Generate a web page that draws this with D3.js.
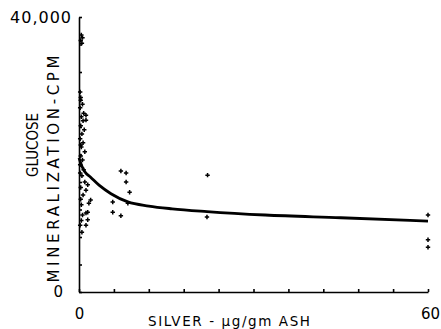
<!DOCTYPE html>
<html>
<head>
<meta charset="utf-8">
<script src="https://cdn.jsdelivr.net/npm/d3@7"></script>
<style>
  body { margin: 0; background: #fff; }
  svg { display: block; }
  text { font-family: "DejaVu Sans", sans-serif; fill: #000; }
  .axis path, .axis line { stroke: #000; stroke-width: 1.6; }
</style>
</head>
<body>
<script>
// silver (ug/gm ash) and glucose mineralization (cpm) for each sample
const silverX = [
  0.4, 0.6, 0.3, 0.5, 0.2, 0.3,
  0.3, 0.6, 0.2, 0.8, 0.4, 0.7, 0.3, 0.9, 0.5, 0.2, 0.7, 0.4, 1.0, 0.3, 0.6,
  0.2, 0.8, 0.5, 1.0, 0.3, 0.7, 0.4, 0.6, 0.2, 0.5, 0.3, 0.4, 0.2, 0.3,
  1.2, 1.2, 1.5, 1.2, 2.0, 1.7, 1.2, 1.5, 1.5, 1.2,
  7.2, 8.1, 8.1, 8.7, 5.8, 8.4, 5.8, 7.2,
  22.1, 22.0,
  60, 60, 60
];
const glucoseY = [
  37400, 37000, 36600, 36200, 29100, 28300,
  27900, 27300, 26800, 26000, 25500, 24900, 24200, 23600, 23000, 22300, 21700, 21100, 20400, 19800, 19200,
  18500, 17800, 16900, 16000, 15200, 14100, 12700, 11200, 9700, 8700, 13500, 10400, 17300, 21400,
  25700, 25000, 15600, 14800, 13400, 12900, 11500, 11600, 10500, 9700,
  17600, 17300, 16000, 14500, 13100, 12900, 11600, 11100,
  17000, 10900,
  11200, 7600, 6500
];

// fitted curve
const fitX = [0, 0.5, 1, 2, 3.5, 5.5, 8.4, 12, 16, 22, 32, 45, 60];
const fitY = [19500, 18300, 17500, 16700, 15500, 14300, 13100, 12500, 12100, 11700, 11200, 10800, 10300];

const yTickValues = d3.range(0, 40001, 4000);
const xTickValues = d3.range(0, 61, 6);
const xTickLabels = {0: "0", 60: "60"};
const yTickLabels = {0: "0", 40000: "40,000"};

const width = 441, height = 329;
const svg = d3.select("body").append("svg")
  .attr("width", width)
  .attr("height", height);

const x = d3.scaleLinear().domain([0, 60]).range([79, 428]);
const y = d3.scaleLinear().domain([0, 40000]).range([292, 17]);

// x axis, ticks pointing up into the plot
svg.append("g")
  .attr("class", "axis")
  .attr("transform", "translate(0," + y(0) + ")")
  .call(d3.axisBottom(x)
    .tickValues(xTickValues)
    .tickSizeInner(-3)
    .tickSizeOuter(0)
    .tickPadding(16)
    .tickFormat(d => xTickLabels[d] || ""))
  .call(g => g.selectAll("text").attr("font-size", 15).attr("font-family", "DejaVu Sans"))
  .call(g => g.selectAll(".tick").filter(d => d === 60).select("text").attr("x", 2));

// y axis
svg.append("g")
  .attr("class", "axis")
  .attr("transform", "translate(" + x(0) + ",0)")
  .call(d3.axisLeft(y)
    .tickValues(yTickValues)
    .tickSizeInner(-3)
    .tickSizeOuter(0)
    .tickPadding(16)
    .tickFormat(d => yTickLabels[d] || ""))
  .call(g => g.selectAll("text").attr("font-size", 15).attr("font-family", "DejaVu Sans"))
  .call(g => g.selectAll(".tick").filter(d => d === 40000).select("text")
    .attr("x", -7).attr("font-size", 16).attr("letter-spacing", 1));

// fitted curve
const line = d3.line()
  .x((d, i) => x(fitX[i]))
  .y(d => y(d))
  .curve(d3.curveMonotoneX);

svg.append("path")
  .datum(fitY)
  .attr("d", line)
  .attr("fill", "none")
  .attr("stroke", "#000")
  .attr("stroke-width", 2.8);

// data points as small plus marks
svg.selectAll(".pt")
  .data(glucoseY)
  .enter().append("path")
    .attr("class", "pt")
    .attr("transform", (d, i) => "translate(" + x(silverX[i]) + "," + y(d) + ")")
    .attr("d", "M-2.2,0H2.2M0,-2.2V2.2")
    .attr("stroke", "#000")
    .attr("stroke-width", 1.5);

// axis titles
svg.append("text")
  .attr("x", 229)
  .attr("y", 326)
  .attr("text-anchor", "middle")
  .attr("font-size", 13.5)
  .attr("textLength", 162)
  .attr("lengthAdjust", "spacing")
  .text("SILVER - \u00b5g/gm ASH");

svg.append("text")
  .attr("transform", "translate(38,145) rotate(-90)")
  .attr("text-anchor", "middle")
  .attr("font-size", 15)
  .attr("textLength", 64)
  .attr("lengthAdjust", "spacingAndGlyphs")
  .text("GLUCOSE");

svg.append("text")
  .attr("transform", "translate(59,169) rotate(-90)")
  .attr("text-anchor", "middle")
  .attr("font-size", 15)
  .attr("textLength", 227)
  .attr("lengthAdjust", "spacing")
  .text("MINERALIZATION-CPM");
</script>
</body>
</html>
